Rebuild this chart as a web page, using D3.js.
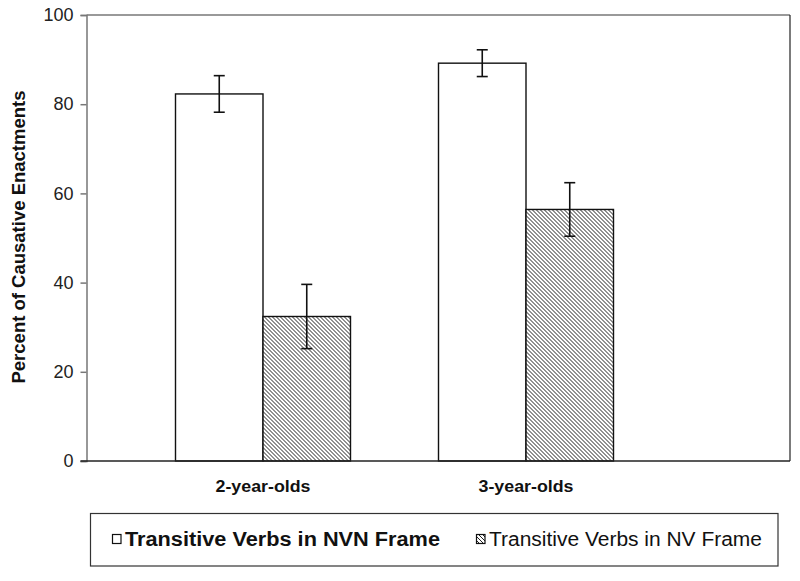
<!DOCTYPE html>
<html>
<head>
<meta charset="utf-8">
<script src="https://cdn.jsdelivr.net/npm/d3@7"></script>
<style>
  html, body { margin: 0; padding: 0; background: #fff; }
  svg { display: block; font-family: Arial, "Liberation Sans", sans-serif; }
</style>
</head>
<body>
<svg id="chart" width="800" height="581"></svg>
<script>
// ---- data ----
const categories = ["2-year-olds", "3-year-olds"];
const seriesNames = ["Transitive Verbs in NVN Frame", "Transitive Verbs in NV Frame"];
const nvnValues = [82.3, 89.2];
const nvnErrors = [4.1, 3.0];
const nvValues = [32.4, 56.4];
const nvErrors = [7.2, 6.0];
const yTicks = [0, 20, 40, 60, 80, 100];
const yTitle = "Percent of Causative Enactments";

const series = [
  { name: seriesNames[0], values: nvnValues, errors: nvnErrors, fill: "#fff" },
  { name: seriesNames[1], values: nvValues, errors: nvErrors, fill: "url(#hatch)" }
];

const svg = d3.select("#chart");

// hatch pattern (downward diagonal)
const defs = svg.append("defs");
const pat = defs.append("pattern")
  .attr("id", "hatch").attr("patternUnits", "userSpaceOnUse")
  .attr("width", 4).attr("height", 4);
pat.append("rect").attr("width", 4).attr("height", 4).attr("fill", "#fff");
pat.append("path")
  .attr("d", "M-1,-1 L5,5 M3,-1 L5,1 M-1,3 L1,5")
  .attr("stroke", "#222").attr("stroke-width", 1);

const plot = { left: 86.5, right: 790, top: 15, bottom: 461 };

const y = d3.scaleLinear().domain([0, 100]).range([plot.bottom, plot.top]);
const x = d3.scaleBand().domain(categories).range([131.5, 657.5])
  .paddingInner(0.3346).paddingOuter(0.1673);
const xs = d3.scaleBand().domain(seriesNames).range([0, x.bandwidth()]).padding(0);

// frame: top (gray) and right (black)
svg.append("line").attr("x1", plot.left).attr("x2", plot.right)
  .attr("y1", plot.top).attr("y2", plot.top)
  .attr("stroke", "#777").attr("stroke-width", 1.5);
svg.append("line").attr("x1", plot.right).attr("x2", plot.right)
  .attr("y1", plot.top).attr("y2", plot.bottom)
  .attr("stroke", "#222").attr("stroke-width", 1.2);

// bars
const groups = svg.append("g").selectAll("g")
  .data(categories).join("g")
  .attr("transform", d => `translate(${x(d)},0)`);

groups.each(function(cat, ci) {
  const g = d3.select(this);
  series.forEach(s => {
    const v = s.values[ci], e = s.errors[ci];
    const bx = xs(s.name), bw = xs.bandwidth();
    g.append("rect")
      .attr("x", bx).attr("width", bw)
      .attr("y", y(v)).attr("height", y(0) - y(v))
      .attr("fill", s.fill).attr("stroke", "#111").attr("stroke-width", 1.4);
    const cx = bx + bw / 2;
    g.append("line").attr("x1", cx).attr("x2", cx)
      .attr("y1", y(v + e)).attr("y2", y(v - e))
      .attr("stroke", "#111").attr("stroke-width", 1.6);
    [v + e, v - e].forEach(t => {
      g.append("line").attr("x1", cx - 5.5).attr("x2", cx + 5.5)
        .attr("y1", y(t)).attr("y2", y(t))
        .attr("stroke", "#111").attr("stroke-width", 1.6);
    });
  });
});

// y axis
const yAxis = svg.append("g").attr("transform", `translate(${plot.left},0)`)
  .call(d3.axisLeft(y).tickValues(yTicks).tickSize(6).tickPadding(7).tickFormat(d3.format("d")));
yAxis.select(".domain").attr("stroke", "#777").attr("stroke-width", 1.5);
yAxis.selectAll(".tick line").attr("stroke", "#777").attr("stroke-width", 1.5);
yAxis.selectAll(".tick text").attr("font-size", 18).attr("fill", "#222")
  .attr("font-family", "Arial, 'Liberation Sans', sans-serif");

// x axis (baseline + category labels)
const xAxis = svg.append("g").attr("transform", `translate(0,${plot.bottom})`)
  .call(d3.axisBottom(x).tickSize(0).tickPadding(0));
xAxis.select(".domain").attr("d", `M${plot.left - 6},0H${plot.right}`)
  .attr("stroke", "#222").attr("stroke-width", 1.4);
xAxis.selectAll(".tick text")
  .attr("y", 31).attr("dy", 0)
  .attr("font-size", 16.5).attr("font-weight", "bold").attr("fill", "#111")
  .attr("font-family", "Arial, 'Liberation Sans', sans-serif")
  .attr("textLength", 95).attr("lengthAdjust", "spacingAndGlyphs");

// y title
svg.append("text")
  .attr("transform", "translate(24.5,237) rotate(-90)")
  .attr("text-anchor", "middle")
  .attr("font-size", 18.5).attr("font-weight", "bold").attr("fill", "#111")
  .text(yTitle);

// legend
const legend = svg.append("g");
legend.append("rect").attr("x", 90.5).attr("y", 513.5).attr("width", 687.5).attr("height", 52.5)
  .attr("fill", "#fff").attr("stroke", "#333").attr("stroke-width", 1.2);
const legItems = [
  { s: series[0], sx: 112, tx: 125, tw: 315, weight: "bold" },
  { s: series[1], sx: 476, tx: 489, tw: 273, weight: "normal" }
];
legItems.forEach(it => {
  legend.append("rect").attr("x", it.sx + 0.5).attr("y", 534.5).attr("width", 8.5).attr("height", 9)
    .attr("fill", it.s.fill).attr("stroke", "#111").attr("stroke-width", 1.2);
  legend.append("text").attr("x", it.tx).attr("y", 546)
    .attr("font-size", 20).attr("font-weight", it.weight).attr("fill", "#111")
    .attr("textLength", it.tw).attr("lengthAdjust", "spacingAndGlyphs")
    .text(it.s.name);
});
</script>
</body>
</html>
